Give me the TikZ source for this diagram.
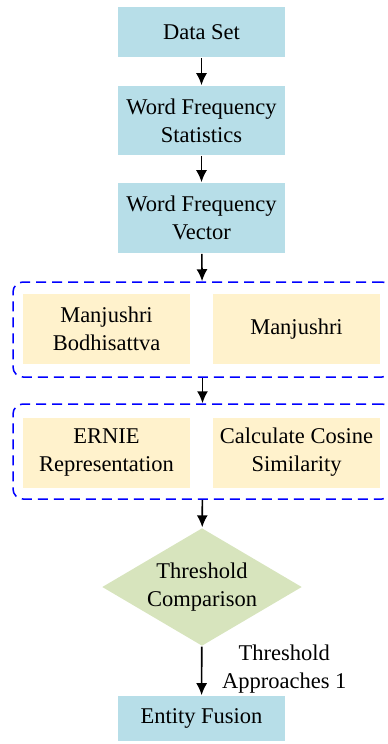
\documentclass[tikz,border=0pt]{standalone}
\usepackage{fontspec}
\setmainfont{Liberation Serif}
\usepackage{tikz}
\usetikzlibrary{arrows.meta,shapes.geometric}

\definecolor{stepblue}{HTML}{B7DEE8}
\definecolor{termbeige}{HTML}{FFF2CC}
\definecolor{decgreen}{HTML}{D7E4BD}

\begin{document}
\begin{tikzpicture}[x=0.5pt, y=-0.5pt, font=\fontsize{11.25}{14}\selectfont, -{Latex[length=6pt,width=5.5pt]}, line width=0.8pt]
	\useasboundingbox (0,0) rectangle (387,744);
      \tikzstyle{stepbox} = [fill=stepblue, align=center, minimum width=83.5pt, inner sep=0pt]
      \tikzstyle{termbox} = [fill=termbeige, align=center, minimum width=83.5pt, minimum height=35pt, inner sep=0pt]
      \tikzstyle{groupbox} = [draw=blue, dash pattern=on 5pt off 3pt, rounded corners=5pt, line width=0.75pt, minimum width=189.5pt, minimum height=47.5pt, inner sep=0pt]
      \node (DataSet) at (201.5,32) [stepbox, minimum height=25pt] {Data Set};
      \node (WFStat) at (201.5,120.5) [stepbox, minimum height=34.5pt] {Word Frequency\\Statistics};
      \node (WFVec) at (201.5,218) [stepbox, minimum height=35pt] {Word Frequency\\Vector};
      % first group
      \node (GroupA) at (202.5,329.5) [groupbox] {};
      \node (MBodhi) at (106.5,329) [termbox] {Manjushri\\Bodhisattva};
      \node (Manju) at (296.5,329) [termbox] {Manjushri};
      % second group
      \node (GroupB) at (202.5,451.5) [groupbox] {};
      \node (ERNIE) at (106.5,452.5) [termbox] {ERNIE\\Representation};
      \node (CosSim) at (296.5,452.5) [termbox] {Calculate Cosine\\Similarity};
      \node (Thresh) at (202,587) [diamond, fill=decgreen, aspect=1.7, minimum width=100pt, minimum height=59pt, inner sep=0pt, align=center] {Threshold\\Comparison};
      \node (Fusion) at (201.5,718.5) [stepbox, minimum height=22.5pt] {Entity Fusion};
      \draw (DataSet) -- (WFStat);
      \draw (WFStat) -- (WFVec);
      \draw (WFVec) -- (GroupA);
      \draw (GroupA) -- (GroupB);
      \draw (GroupB) -- (Thresh);
      \draw (Thresh) -- node [right=6.5pt, align=center, pos=0.47] {Threshold\\Approaches 1} (Fusion);
    \end{tikzpicture}
\end{document}
